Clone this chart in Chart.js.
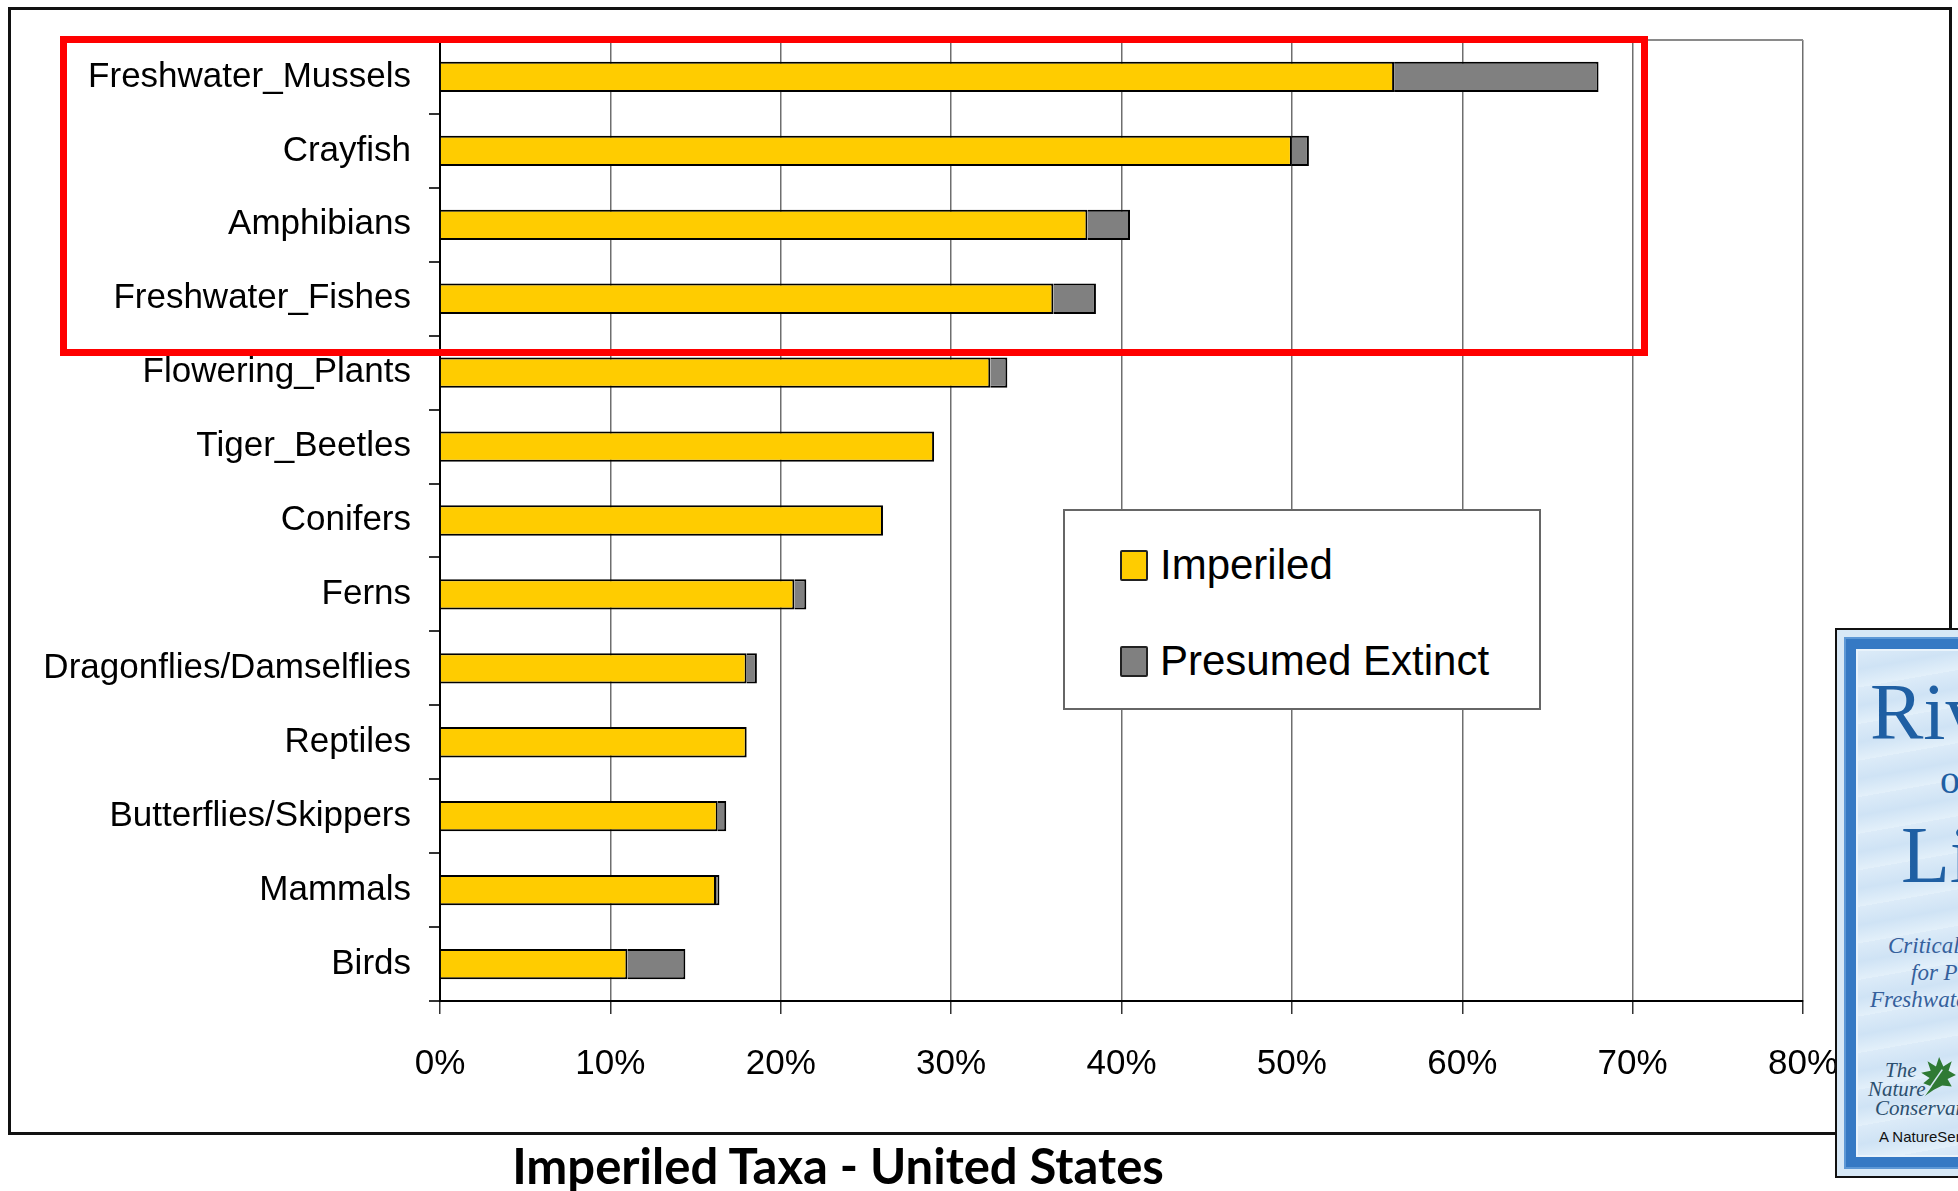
<!DOCTYPE html>
<html>
<head>
<meta charset="utf-8">
<title>Imperiled Taxa - United States</title>
<script src="https://cdn.jsdelivr.net/npm/chart.js@4.4.1/dist/chart.umd.min.js"></script>
<style>
  html, body { margin: 0; padding: 0; background: #fff; }
  body { width: 1958px; height: 1191px; position: relative; overflow: hidden; font-family: "Liberation Sans", Arial, sans-serif; }
  #frame { position: absolute; left: 8px; top: 7px; width: 1938px; height: 1122px; border: 3px solid #111; }
  #chartBox { position: absolute; left: 0; top: 0; width: 1958px; height: 1120px; }
  #redBox { position: absolute; left: 60px; top: 36px; width: 1574px; height: 306px; border: 7px solid #ff0000; }
  #legend { position: absolute; left: 1063px; top: 509px; width: 474px; height: 197px; border: 2px solid #666; background: #fff; }
  #legend .item { position: absolute; left: 55px; height: 46px; display: flex; align-items: center; font-size: 42px; color: #000; white-space: nowrap; }
  #legend .swatch { width: 24px; height: 27px; border: 2px solid #222; border-radius: 2px; margin-right: 12px; }
  #title { position: absolute; left: 0; top: 1141px; width: 1676px; text-align: center; font-family: Lato, "Open Sans", sans-serif; font-weight: 700; font-size: 49px; line-height: 1; color: #000; }

  /* book cover in the lower right corner */
  #book { position: absolute; left: 1835px; top: 628px; width: 300px; height: 546px; border: 2px solid #111; background: #d7e8f6; }
  #book .band { position: absolute; left: 9px; top: 9px; right: 9px; bottom: 9px; border: 10px solid #3579c4; box-shadow: inset 0 0 0 2px #1f5a9e, 0 0 0 2px #5d98d6; }
  #book .inner { position: absolute; left: 0; top: 0; right: 0; bottom: 0; border: 2px solid #e9f3fb;
    background: repeating-linear-gradient(170deg, #dcebf8 0px, #cfe3f5 18px, #e3f0fa 36px); }
  #book .t { position: absolute; white-space: nowrap; line-height: 1; }
  #book .big { font-family: "Liberation Serif", "DejaVu Serif", serif; font-size: 80px; color: #1f5fa3; }
  #book .of { font-family: "Liberation Serif", serif; font-size: 40px; color: #1f5fa3; }
  #book .sub { font-family: "Liberation Serif", serif; font-style: italic; font-size: 23px; color: #35609c; }
  #book .tnc { font-family: "Liberation Serif", serif; font-style: italic; font-size: 21px; color: #2c4f6e; }
  #book .ns { font-family: "Liberation Sans", sans-serif; font-size: 15px; color: #111; }
</style>
</head>
<body>
<div id="frame"></div>
<div id="chartBox"><canvas id="taxaChart" width="1958" height="1120"></canvas></div>
<div id="legend"></div>
<div id="redBox"></div>
<div id="title">Imperiled Taxa - United States</div>

<div id="book">
  <div class="band"><div class="inner"></div></div>
  <div class="t big" style="left:33px; top:42px;">Rivers</div>
  <div class="t of" style="left:103px; top:130px;">of</div>
  <div class="t big" style="left:64px; top:185px;">Life</div>
  <div class="t sub" style="left:51px; top:304px;">Critical Watersheds</div>
  <div class="t sub" style="left:74px; top:331px;">for Protecting</div>
  <div class="t sub" style="left:33px; top:358px;">Freshwater Biodiversity</div>
  <div class="t tnc" style="left:48px; top:430px;">The</div>
  <div class="t tnc" style="left:31px; top:449px;">Nature</div>
  <div class="t tnc" style="left:38px; top:468px;">Conservancy</div>
  <svg style="position:absolute; left:80px; top:424px;" width="40" height="46" viewBox="0 0 38 42">
    <path d="M6 40 L14 30 L6 27 L12 22 L4 17 L13 15 L10 6 L18 11 L21 2 L25 11 L33 6 L30 15 L37 19 L29 23 L33 30 L24 29 L16 33 Z" fill="#2f7a34"/>
    <path d="M6 40 L24 14" stroke="#d7e8f6" stroke-width="1.5"/>
  </svg>
  <div class="t ns" style="left:42px; top:499px;">A NatureServe Report</div>
</div>

<script>
// Share of species in each group, percent
const categories = [
  'Freshwater_Mussels', 'Crayfish', 'Amphibians', 'Freshwater_Fishes',
  'Flowering_Plants', 'Tiger_Beetles', 'Conifers', 'Ferns',
  'Dragonflies/Damselflies', 'Reptiles', 'Butterflies/Skippers', 'Mammals', 'Birds'
];
const imperiled = [56, 50, 38, 36, 32.3, 29, 26, 20.8, 18, 18, 16.3, 16.2, 11];
const presumedExtinct = [12, 1, 2.5, 2.5, 1, 0, 0, 0.7, 0.6, 0, 0.5, 0.2, 3.4];
const xTickValues = [0, 10, 20, 30, 40, 50, 60, 70, 80];

const seriesColors = { 'Imperiled': '#FFCC00', 'Presumed Extinct': '#808080' };
const labelFont = { family: '"Liberation Sans", Arial, sans-serif', size: 35 };

// gray line along the top of the plot area
const plotTop = {
  id: 'plotTop',
  beforeDatasetsDraw(chart) {
    const { ctx, chartArea } = chart;
    ctx.save();
    ctx.strokeStyle = '#8a8a8a';
    ctx.lineWidth = 2;
    ctx.beginPath();
    ctx.moveTo(chartArea.left, chartArea.top);
    ctx.lineTo(chartArea.right, chartArea.top);
    ctx.stroke();
    ctx.restore();
  }
};

const chart = new Chart(document.getElementById('taxaChart'), {
  type: 'bar',
  data: {
    labels: categories,
    datasets: [
      { label: 'Imperiled', data: imperiled },
      { label: 'Presumed Extinct', data: presumedExtinct }
    ].map(ds => Object.assign(ds, {
      backgroundColor: seriesColors[ds.label],
      borderColor: '#000',
      borderWidth: 2,
      barPercentage: 0.41,
      categoryPercentage: 1
    }))
  },
  options: {
    indexAxis: 'y',
    responsive: false,
    animation: false,
    layout: { padding: { top: 40, right: 155, bottom: 0, left: 0 } },
    plugins: { legend: { display: false }, tooltip: { enabled: false } },
    scales: {
      x: {
        stacked: true,
        min: 0,
        max: 80,
        afterBuildTicks: axis => { axis.ticks = xTickValues.map(v => ({ value: v })); },
        afterFit: axis => { axis.height = 119; },
        grid: { color: '#6e6e6e', lineWidth: 1.5, tickLength: 13, tickColor: '#333' },
        border: { color: '#000', width: 2 },
        ticks: { callback: v => v + '%', padding: 29, font: labelFont, color: '#000', maxRotation: 0 }
      },
      y: {
        stacked: true,
        afterFit: axis => { axis.width = 440; },
        grid: {
          drawOnChartArea: false,
          tickLength: 11,
          lineWidth: 2,
          tickColor: c => c.index === 0 ? 'rgba(0,0,0,0)' : '#333'
        },
        border: { color: '#000', width: 2 },
        ticks: { padding: 18, font: labelFont, color: '#000' }
      }
    }
  },
  plugins: [plotTop]
});

// legend box built from the chart's datasets
const legendEl = document.getElementById('legend');
chart.data.datasets.forEach((ds, i) => {
  const item = document.createElement('div');
  item.className = 'item';
  item.style.top = (31 + i * 96) + 'px';
  item.innerHTML = '<span class="swatch" style="background:' + ds.backgroundColor + '"></span>' + ds.label;
  legendEl.appendChild(item);
});
</script>
</body>
</html>
